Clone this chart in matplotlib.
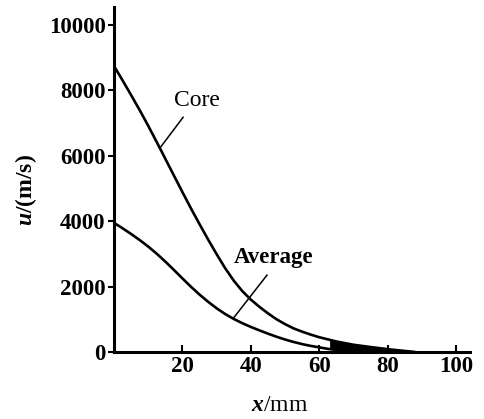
"""Core and average velocity decay along the jet axis."""
import matplotlib

matplotlib.use("Agg")
import matplotlib.pyplot as plt
import numpy as np

# distance x (mm) and velocity u (m/s)
core_x = [0, 2.5, 5, 7.5, 10, 12.5, 15, 17.5, 20, 22.5, 25, 27.5, 30, 32.5, 35, 37.5, 40,
          42.5, 45, 47.5, 50, 52.5, 55, 57.5, 60, 65, 70, 75, 80, 85, 88]
core_u = [8750, 8310, 7860, 7400, 6920, 6420, 5910, 5400, 4890, 4390, 3910, 3440, 2990, 2560, 2180, 1860, 1600,
          1380, 1180, 1000, 850, 720, 620, 530, 450, 320, 220, 150, 85, 30, 0]

avg_x = [0, 2.5, 5, 7.5, 10, 12.5, 15, 17.5, 20, 22.5, 25, 27.5, 30, 32.5, 35, 37.5, 40,
         42.5, 45, 47.5, 50, 52.5, 55, 57.5, 60, 62.5, 65, 67.5, 70]
avg_u = [3950, 3785, 3610, 3425, 3225, 3005, 2765, 2510, 2250, 1995, 1755, 1535, 1335, 1160, 1010, 880, 765,
         660, 560, 465, 380, 305, 240, 185, 140, 95, 60, 30, 10]

x_ticks = [20, 40, 60, 80, 100]
y_ticks = [0, 2000, 4000, 6000, 8000, 10000]

plt.rcParams["font.family"] = ["Liberation Serif", "DejaVu Serif"]
plt.rcParams["mathtext.fontset"] = "custom"
plt.rcParams["mathtext.rm"] = "Liberation Serif"
plt.rcParams["mathtext.it"] = "Liberation Serif:italic:bold"

fig = plt.figure(figsize=(4.85, 4.19), dpi=100)
ax = fig.add_axes([0.235, 0.160, 0.734, 0.823])

ax.plot(core_x, core_u, color="black", linewidth=1.9, solid_capstyle="butt")
ax.plot(avg_x, avg_u, color="black", linewidth=1.9, solid_capstyle="butt")

# the two curves run together near the axis
xs = np.linspace(63, 88, 60)
ax.fill_between(xs, np.interp(xs, avg_x, avg_u, right=0), np.interp(xs, core_x, core_u),
                color="black", linewidth=0)

# labels with leader lines to the curves
ax.text(24.3, 7700, "Core", fontsize=17, ha="center", va="center")
ax.plot([20.2, 13.4], [7180, np.interp(13.4, core_x, core_u)], color="black", linewidth=1.1)
ax.text(46.5, 2880, "Average", fontsize=16.5, ha="center", va="center", fontweight="bold")
ax.plot([44.7, 34.8], [2350, np.interp(34.8, avg_x, avg_u)], color="black", linewidth=1.1)

ax.set_xlim(0, 104)
ax.set_ylim(0, 10550)
ax.set_xticks(x_ticks)
ax.set_yticks(y_ticks)
ax.tick_params(axis="x", direction="in", length=5, width=1.5, pad=3, labelsize=16.5)
ax.tick_params(axis="y", direction="out", length=4, width=1.5, pad=2, labelsize=16.5)
for lbl in ax.get_xticklabels() + ax.get_yticklabels():
    lbl.set_fontweight("bold")

for side in ("top", "right"):
    ax.spines[side].set_visible(False)
for side in ("left", "bottom"):
    ax.spines[side].set_linewidth(2.2)

ax.set_xlabel(r"$\mathit{x}$/mm", fontsize=17)
ax.xaxis.set_label_coords(0.466, -0.125)
ax.set_ylabel(r"$\mathit{u}$/(m/s)", fontsize=17, fontweight="bold")
ax.yaxis.set_label_coords(-0.21, 0.47)

fig.savefig("out.png", dpi=100)
